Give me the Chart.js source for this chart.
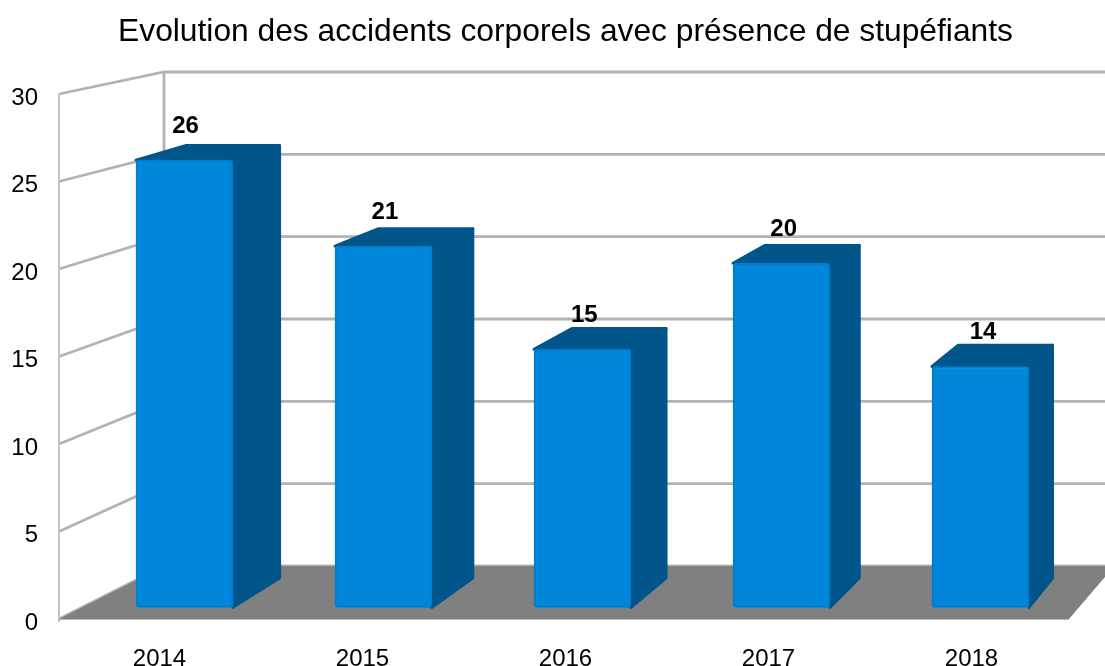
<!DOCTYPE html>
<html>
<head>
<meta charset="utf-8">
<style>html,body{margin:0;padding:0;background:#fff}#w{width:1105px;height:666px}</style>
<script src="https://cdn.jsdelivr.net/npm/chart.js@4"></script>
</head>
<body>
<div id="w"><canvas id="c"></canvas></div>
<script>
const categories = ['2014','2015','2016','2017','2018'];
const values = [26,21,15,20,14];
const titleText = 'Evolution des accidents corporels avec présence de stupéfiants';

const FONT = '"Liberation Sans", Arial, sans-serif';
const VP = {x:1839, y:-279};
const WALL_DEPTH = 0.941, BAR_DEPTH_X = 0.971, BAR_DEPTH_Y = 0.967, LABEL_SHIFT = 4;
const project = (x,y,k,ky) => [VP.x+(x-VP.x)*k, VP.y+(y-VP.y)*(ky===undefined?k:ky)];
const poly = (ctx,pts,fill) => {
  ctx.beginPath(); pts.forEach((p,i)=> i?ctx.lineTo(p[0],p[1]):ctx.moveTo(p[0],p[1])); ctx.closePath();
  ctx.fillStyle=fill; ctx.fill();
};

const scene = {
  id:'scene',
  beforeDatasetsDraw(chart){
    const ctx=chart.ctx, y=chart.scales.y, x=chart.scales.x;
    const L=x.left+1, R=x.right-4;
    const Y=v=>y.getPixelForValue(v)-LABEL_SHIFT;
    ctx.save();
    ctx.lineCap='butt';
    ctx.strokeStyle='#b3b3b3'; ctx.lineWidth=2.8;
    y.ticks.forEach(t=>{
      const a=[L,Y(t.value)], b=project(L,Y(t.value),WALL_DEPTH);
      ctx.beginPath(); ctx.moveTo(a[0],a[1]); ctx.lineTo(b[0],b[1]); ctx.lineTo(chart.width,b[1]); ctx.stroke();
    });
    const top=project(L,Y(30),WALL_DEPTH), bot=project(L,Y(0),WALL_DEPTH);
    ctx.beginPath(); ctx.moveTo(top[0],top[1]); ctx.lineTo(bot[0],bot[1]); ctx.stroke();
    ctx.strokeStyle='#c4c4c4'; ctx.lineWidth=2;
    ctx.beginPath(); ctx.moveTo(L,Y(30)); ctx.lineTo(L,Y(0)+3); ctx.stroke();
    poly(ctx,[[L,Y(0)],[R,Y(0)],project(R,Y(0),WALL_DEPTH),project(L,Y(0),WALL_DEPTH)],'#808080');
    ctx.strokeStyle='#b8b8b8'; ctx.lineWidth=1;
    ctx.beginPath(); ctx.moveTo(L,Y(0)+.5); ctx.lineTo(R,Y(0)+.5); ctx.stroke();
    // depth faces of the bars
    chart.getDatasetMeta(0).data.forEach(el=>{
      const p=el.getProps(['x','y','base','width'],true);
      const l=p.x-p.width/2, r=p.x+p.width/2;
      const side=[[r,p.y],project(r,p.y,BAR_DEPTH_X,BAR_DEPTH_Y),project(r,p.base,BAR_DEPTH_X,BAR_DEPTH_Y),[r,p.base]];
      const cap=[[l,p.y],[r,p.y],project(r,p.y,BAR_DEPTH_X,BAR_DEPTH_Y),project(l,p.y,BAR_DEPTH_X,BAR_DEPTH_Y)];
      ctx.lineJoin='round'; ctx.lineWidth=3; ctx.strokeStyle='#00568a';
      [side,cap].forEach(f=>{ poly(ctx,f,'#00568a'); ctx.stroke(); });
    });
    ctx.restore();
  },
  afterDatasetsDraw(chart){
    const ctx=chart.ctx;
    ctx.save();
    ctx.font='bold 24px '+FONT; ctx.fillStyle='#000'; ctx.textAlign='center'; ctx.textBaseline='middle';
    chart.getDatasetMeta(0).data.forEach((el,i)=>{
      ctx.fillText(String(values[i]), el.x+1+0.4*i, el.y-34);
    });
    ctx.restore();
  }
};

new Chart(document.getElementById('c'),{
  type:'bar',
  data:{
    labels:categories,
    datasets:[{
      label:'Accidents',
      data:values.map((v,i)=>({x:i,y:v})),
      xAxisID:'xBar', yAxisID:'yBar',
      backgroundColor:'#0086da', borderColor:'#007ecb', borderWidth:2,
      borderSkipped:false, borderRadius:3, barThickness:97
    }]
  },
  options:{
    responsive:true, maintainAspectRatio:false, animation:false,
    layout:{padding:{left:0,right:32,top:0,bottom:0}},
    plugins:{
      legend:{display:false}, tooltip:{enabled:false},
      title:{display:true,text:titleText,fullSize:false,color:'#000',
        font:{family:FONT,size:31.75,weight:'normal',lineHeight:1.2},padding:{top:13.5,bottom:46.4}}
    },
    scales:{
      x:{type:'category',labels:categories,offset:true,position:'bottom',
        grid:{display:false,drawTicks:false},border:{display:false},
        ticks:{color:'#000',font:{family:FONT,size:24},padding:22,maxRotation:0,autoSkip:false},
        afterFit(s){s.height=43}},
      y:{type:'linear',min:0,max:30,position:'left',
        grid:{display:false,drawTicks:false},border:{display:false},
        ticks:{stepSize:5,color:'#000',font:{family:FONT,size:24},padding:20},
        afterFit(s){s.width=58}},
      xBar:{type:'linear',axis:'x',display:false,offset:false,min:-0.6357,max:4.4648,grid:{display:false,offset:false}},
      yBar:{type:'linear',axis:'y',display:false,min:-0.913,max:29.61,grid:{display:false}}
    }
  },
  plugins:[scene]
});
</script>
</body>
</html>
